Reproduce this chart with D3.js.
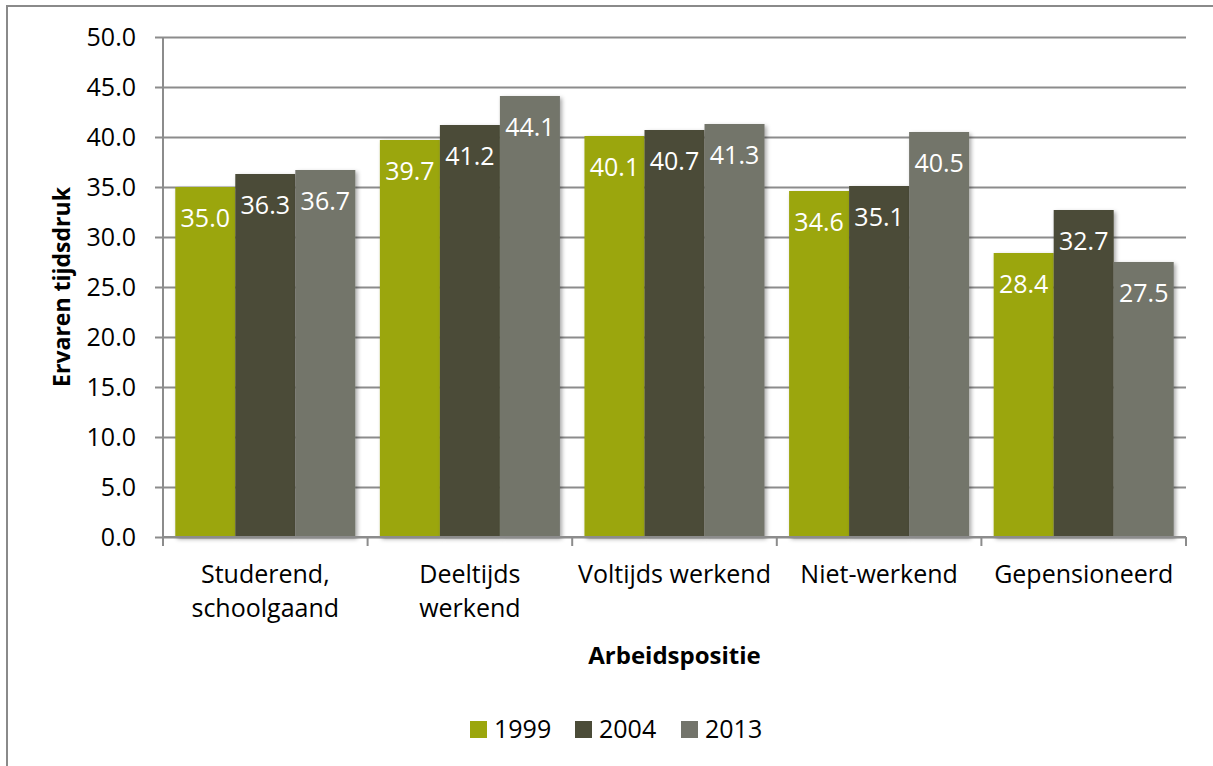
<!DOCTYPE html>
<html>
<head>
<meta charset="utf-8">
<script src="https://cdn.jsdelivr.net/npm/d3@7"></script>
<style>
  html, body { margin: 0; padding: 0; background: #ffffff; }
  svg { display: block; }
  text { font-family: "Open Sans", "DejaVu Sans", sans-serif; }
</style>
</head>
<body>
<div id="chart"></div>
<script>
// Ervaren tijdsdruk naar arbeidspositie, per meetjaar
const categories = [
  ["Studerend,", "schoolgaand"],
  ["Deeltijds", "werkend"],
  ["Voltijds werkend"],
  ["Niet-werkend"],
  ["Gepensioneerd"]
];
const years = ["1999", "2004", "2013"];
const values1999 = [35.0, 39.7, 40.1, 34.6, 28.4];
const values2004 = [36.3, 41.2, 40.7, 35.1, 32.7];
const values2013 = [36.7, 44.1, 41.3, 40.5, 27.5];
const yTicks = [0, 5, 10, 15, 20, 25, 30, 35, 40, 45, 50];
const yTitle = "Ervaren tijdsdruk";
const xTitle = "Arbeidspositie";

const seriesValues = [values1999, values2004, values2013];
const colors = ["#9ba60c", "#4b4c38", "#73746b"];

const W = 1213, H = 766;
const plot = { left: 163, right: 1186, top: 37, bottom: 537 };

const svg = d3.select("#chart").append("svg")
  .attr("width", W).attr("height", H);

// drop shadow used under the bars
const defs = svg.append("defs");
const shadow = defs.append("filter").attr("id", "barShadow")
  .attr("x", "-10%").attr("y", "-10%").attr("width", "130%").attr("height", "130%");
shadow.append("feDropShadow")
  .attr("dx", 2).attr("dy", 2).attr("stdDeviation", 2)
  .attr("flood-color", "#000").attr("flood-opacity", 0.35);

// outer chart frame
svg.append("path")
  .attr("d", `M7,${H} V6 H${W}`)
  .attr("fill", "none").attr("stroke", "#8a8a8a").attr("stroke-width", 2);

const catKeys = categories.map(c => c.join(" "));
const x0 = d3.scaleBand().domain(catKeys)
  .range([plot.left, plot.right]).paddingInner(0.12).paddingOuter(0.06);
const x1 = d3.scaleBand().domain(years).range([0, x0.bandwidth()]);
const y = d3.scaleLinear().domain([0, 50]).range([plot.bottom, plot.top]);

// horizontal gridlines with outward ticks
const yAxis = d3.axisLeft(y).tickValues(yTicks)
  .tickFormat(d3.format(".1f"))
  .tickSize(-(plot.right - plot.left)).tickPadding(27);
const gy = svg.append("g").attr("transform", `translate(${plot.left},0)`).call(yAxis);
gy.select(".domain").remove();
gy.selectAll(".tick line")
  .attr("x1", -8)
  .attr("stroke", "#8c8c8c").attr("stroke-width", 2);
gy.selectAll(".tick text")
  .attr("fill", "#000").style("font-size", "25px");

// vertical axis line
svg.append("line")
  .attr("x1", plot.left).attr("x2", plot.left)
  .attr("y1", plot.top).attr("y2", plot.bottom)
  .attr("stroke", "#8c8c8c").attr("stroke-width", 2);

// bars
const groups = svg.append("g").selectAll("g")
  .data(catKeys).join("g")
  .attr("transform", d => `translate(${x0(d)},0)`);

groups.selectAll("rect")
  .data((d, i) => years.map((yr, s) => ({ yr, s, v: seriesValues[s][i] })))
  .join("rect")
  .attr("x", d => x1(d.yr))
  .attr("y", d => y(d.v))
  .attr("width", x1.bandwidth())
  .attr("height", d => y(0) - y(d.v))
  .attr("fill", d => colors[d.s])
  .attr("filter", "url(#barShadow)");

groups.selectAll("text.val")
  .data((d, i) => years.map((yr, s) => ({ yr, s, v: seriesValues[s][i] })))
  .join("text")
  .attr("class", "val")
  .attr("x", d => x1(d.yr) + x1.bandwidth() / 2)
  .attr("y", d => y(d.v) + 31)
  .attr("dy", "0.35em")
  .attr("text-anchor", "middle")
  .attr("fill", "#fff")
  .style("font-size", "25px")
  .text(d => d3.format(".1f")(d.v));

// category axis
const xAxis = d3.axisBottom(x0).tickSize(0).tickFormat("");
const gx = svg.append("g").attr("transform", `translate(0,${plot.bottom})`).call(xAxis);
gx.select(".domain").attr("stroke", "#8c8c8c").attr("stroke-width", 2)
  .attr("d", `M${plot.left},0H${plot.right}`);
const bounds = catKeys.map(k => x0(k) - x0.step() * x0.paddingInner() / 2);
bounds.push(plot.right);
gx.selectAll(".bound").data(bounds).join("line")
  .attr("class", "bound")
  .attr("x1", d => d).attr("x2", d => d)
  .attr("y1", 0).attr("y2", 9)
  .attr("stroke", "#8c8c8c").attr("stroke-width", 2);

const catLabels = svg.append("g").selectAll("text")
  .data(categories).join("text")
  .attr("x", (d, i) => x0(catKeys[i]) + x0.bandwidth() / 2)
  .attr("y", 574)
  .attr("text-anchor", "middle")
  .attr("fill", "#000")
  .style("font-size", "25px");
catLabels.selectAll("tspan")
  .data(d => d).join("tspan")
  .attr("x", function () { return this.parentNode.getAttribute("x"); })
  .attr("dy", (d, i) => i === 0 ? "0.35em" : "34px")
  .text(d => d);

// axis titles
svg.append("text")
  .attr("x", (plot.left + plot.right) / 2).attr("y", 656)
  .attr("dy", "0.35em")
  .attr("text-anchor", "middle")
  .attr("font-weight", "bold")
  .style("font-size", "24px")
  .text(xTitle);

svg.append("text")
  .attr("transform", `translate(62,${(plot.top + plot.bottom) / 2}) rotate(-90)`)
  .attr("dy", "0.35em")
  .attr("text-anchor", "middle")
  .attr("font-weight", "bold")
  .style("font-size", "23px")
  .text(yTitle);

// legend
const legendX = [470, 575, 681];
const legend = svg.append("g").selectAll("g")
  .data(years).join("g")
  .attr("transform", (d, i) => `translate(${legendX[i]},721)`);
legend.append("rect")
  .attr("width", 17).attr("height", 17)
  .attr("fill", (d, i) => colors[i]);
legend.append("text")
  .attr("x", 24).attr("y", 8.5).attr("dy", "0.35em")
  .style("font-size", "25px")
  .text(d => d);
</script>
</body>
</html>
